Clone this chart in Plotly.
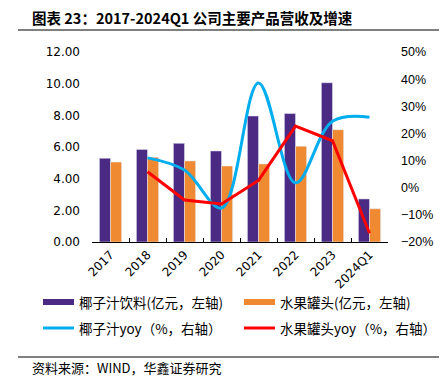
import plotly.graph_objects as go

categories = ["2017", "2018", "2019", "2020", "2021", "2022", "2023", "2024Q1"]
coco_rev = [5.29, 5.85, 6.23, 5.75, 7.96, 8.11, 10.06, 2.72]
fruit_rev = [5.05, 5.35, 5.12, 4.80, 4.93, 6.05, 7.09, 2.10]
coco_yoy = [None, 11.0, 6.5, -7.5, 38.6, 1.8, 24.5, 26.0]
fruit_yoy = [None, 5.9, -4.5, -6.0, 2.7, 22.7, 17.3, -16.8]

names = ["椰子汁饮料(亿元，左轴)", "水果罐头(亿元，左轴)", "椰子汁yoy（%，右轴）", "水果罐头yoy（%，右轴）"]
colors = ["#4B2A84", "#EF8A33", "#00AEEF", "#FF0000"]

# page body has an 8px default margin; work in page pixels and shift
O = 8
W, H = 447 - O, 387 - O
L, R, T, B = 92 - O, 388 - O, 52 - O, 242 - O
FONT = "Noto Sans CJK SC"
NUMFONT = "Liberation Sans"
WIDEFONT = "DejaVu Sans"


def xp(px):
    return (px - O - L) / (R - L)


def yp(py):
    return (B - (py - O)) / (B - T)


fig = go.Figure()
fig.add_trace(go.Bar(x=categories, y=coco_rev, name=names[0], marker_color=colors[0], yaxis="y"))
fig.add_trace(go.Bar(x=categories, y=fruit_rev, name=names[1], marker_color=colors[1], yaxis="y"))
fig.add_trace(go.Scatter(x=categories, y=coco_yoy, name=names[2], mode="lines",
                         line=dict(color=colors[2], width=3, shape="spline", smoothing=1.0),
                         yaxis="y2", connectgaps=False))
fig.add_trace(go.Scatter(x=categories, y=fruit_yoy, name=names[3], mode="lines",
                         line=dict(color=colors[3], width=3), yaxis="y2"))

shapes = []
annotations = []

# title and rules
annotations.append(dict(text="<b>图表 23：2017-2024Q1 公司主要产品营收及增速</b>", x=xp(30), y=yp(17),
                        xref="paper", yref="paper", xanchor="left", yanchor="middle",
                        showarrow=False, font=dict(family=FONT, size=14.5, color="#000")))
shapes.append(dict(type="line", xref="paper", yref="paper", x0=xp(18), x1=xp(447), y0=yp(30), y1=yp(30),
                   line=dict(color="#000", width=1)))
shapes.append(dict(type="line", xref="paper", yref="paper", x0=xp(18), x1=xp(447), y0=yp(357), y1=yp(357),
                   line=dict(color="#000", width=1)))
annotations.append(dict(text="资料来源：WIND，华鑫证券研究", x=xp(30), y=yp(367),
                        xref="paper", yref="paper", xanchor="left", yanchor="middle",
                        showarrow=False, font=dict(family=FONT, size=13, color="#000")))

# legend
legend_pos = [(43, 302, "bar"), (244, 302, "bar"), (43, 328, "line"), (244, 328, "line")]
for (lx, ly, kind), name, col in zip(legend_pos, names, colors):
    if kind == "bar":
        shapes.append(dict(type="rect", xref="paper", yref="paper", x0=xp(lx), x1=xp(lx + 31),
                           y0=yp(ly + 3), y1=yp(ly - 3), fillcolor=col, line=dict(width=0)))
    else:
        shapes.append(dict(type="line", xref="paper", yref="paper", x0=xp(lx), x1=xp(lx + 31),
                           y0=yp(ly), y1=yp(ly), line=dict(color=col, width=3)))
    annotations.append(dict(text=name, x=xp(lx + 34), y=yp(ly), xref="paper", yref="paper",
                            xanchor="left", yanchor="middle", showarrow=False,
                            font=dict(family=FONT, size=13.5, color="#000")))

fig.update_layout(
    width=W, height=H,
    margin=dict(l=L, r=W - R, t=T, b=H - B, pad=0),
    paper_bgcolor="white", plot_bgcolor="white",
    barmode="group", bargap=0.4, bargroupgap=0.0,
    showlegend=False,
    shapes=shapes, annotations=annotations,
    xaxis=dict(type="category", showline=True, linecolor="#000", linewidth=1,
               ticks="inside", tickson="boundaries", ticklen=4, tickcolor="#000",
               tickangle=-45, tickfont=dict(family=WIDEFONT, size=12, color="#000"),
               showgrid=False, zeroline=False),
    yaxis=dict(range=[0, 12], dtick=2, tickformat=".2f", showline=False, ticks="",
               showgrid=False, zeroline=False, ticklabelstandoff=11,
               tickfont=dict(family=WIDEFONT, size=12, color="#000")),
    yaxis2=dict(range=[-20, 50], dtick=10, ticksuffix="%", overlaying="y", side="right",
                showline=False, ticks="", showgrid=False, zeroline=False, ticklabelstandoff=12,
                tickfont=dict(family=NUMFONT, size=12.5, color="#000")),
)

fig.write_html("out.html")
